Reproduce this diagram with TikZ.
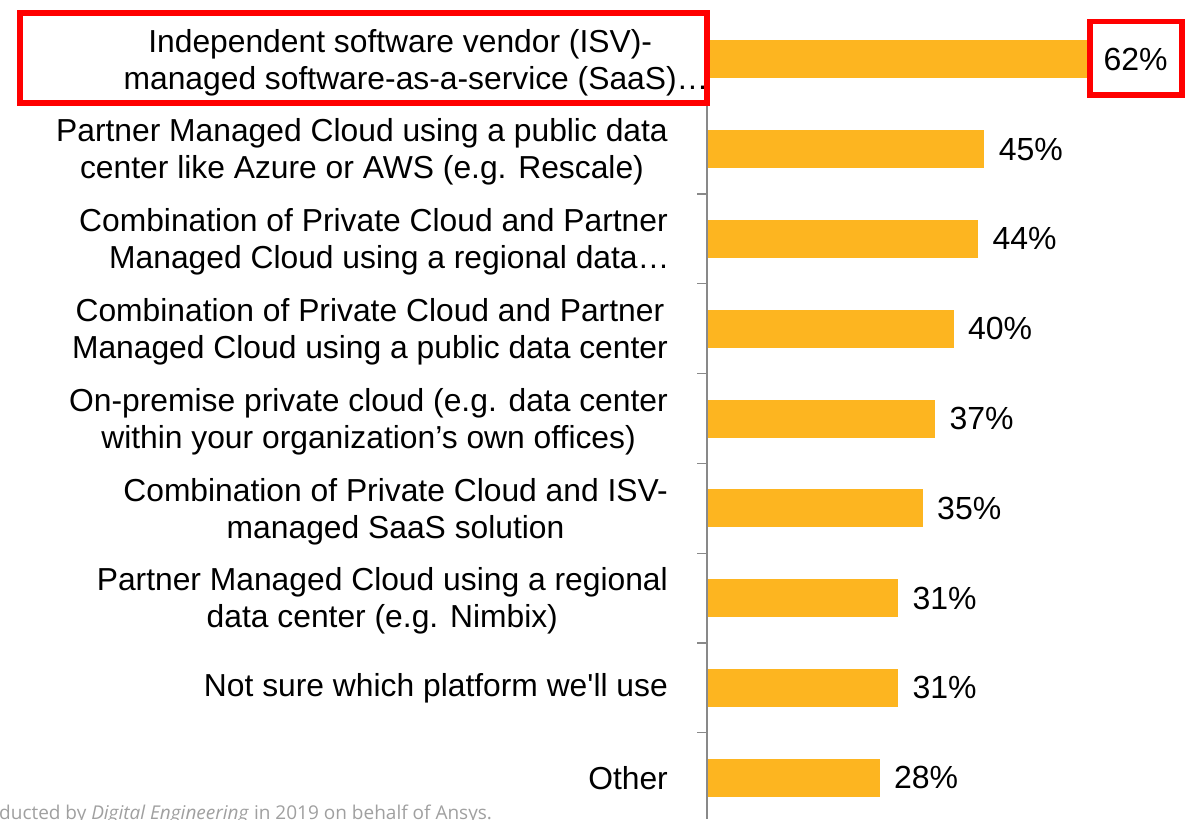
\documentclass[tikz,border=0pt]{standalone}
\usepackage{fontspec}
\newfontfamily\labfont{Liberation Sans}
\newfontfamily\footfont{Open Sans}
\definecolor{barfill}{RGB}{253,181,32}
\definecolor{axisgray}{RGB}{137,137,137}
\definecolor{footgray}{RGB}{160,160,160}
\begin{document}
\begin{tikzpicture}[x=1pt,y=-1pt,
  lab/.style={anchor=east, align=center, inner sep=0pt, font=\labfont\fontsize{31.8}{37}\selectfont},
  pct/.style={anchor=west, inner sep=0pt, font=\labfont\fontsize{32}{37}\selectfont},
  barbox/.style={fill=barfill, draw=none, anchor=west, inner sep=0pt, minimum height=38pt},
  hlbox/.style={draw=red, line width=6pt, inner sep=0pt},
  axisline/.style={draw=axisgray, line width=1.2pt}]
\useasboundingbox (0,0) rectangle (1188,819);
\fill[white] (0,0) rectangle (1188,819);
% bars, values and labels
\foreach \i/\p/\t in {
  0/62/{},
  1/45/{Partner Managed Cloud using a public data\\center like Azure or AWS (e.g. Rescale)},
  2/44/{Combination of Private Cloud and Partner\\Managed Cloud using a regional data\rlap{…}},
  3/40/{Combination of Private Cloud and Partner\\Managed Cloud using a public data center},
  4/37/{On-premise private cloud (e.g. data center\\within your organization’s own offices)},
  5/35/{Combination of Private Cloud and ISV-\\managed SaaS solution},
  6/31/{Partner Managed Cloud using a regional\\data center (e.g. Nimbix)},
  7/31/{Not sure which platform we'll use},
  8/28/{Other}}{
  \pgfmathsetmacro\yc{59.3+89.8*\i}
  \pgfmathsetmacro\bw{6.16*\p}
  \node[barbox, minimum width=\bw pt] (bar\i) at (707,\yc) {};
  \node[pct] (pct\i) at ([xshift=14pt]bar\i.east) {\p\%};
  \ifnum\i>6
    \node[lab] (lab\i) at (668,\yc) {\t};
  \else\ifnum\i>0
    \node[lab, yshift=-3pt] (lab\i) at (668,\yc) {\t};
  \fi\fi
}
\node[lab, yshift=-3pt] (lab0) at (677,59.3) {Independent software vendor (ISV)-\\managed software-as-a-service (SaaS)\rlap{…}};
% axis
\draw[axisline] (707,15) -- (707,819);
\foreach \k in {0,...,7}{
  \pgfmathsetmacro\yt{194+89.8*\k}
  \draw[axisline] (697,\yt) -- (707,\yt);
}
% highlight boxes
\node[hlbox, minimum width=686.5pt, minimum height=90.5pt] (hl1) at (363.25,57.75) {};
\node[hlbox, line width=5.5pt, minimum width=92pt, minimum height=73.5pt] (hl2) at (1136,58.25) {};
% footer
\node[anchor=base west, inner sep=0pt, text=footgray, font=\footfont\fontsize{19}{22}\selectfont] (foot) at (-1,819.5) {ducted by \textit{Digital Engineering} in 2019 on behalf of Ansys.};
\end{tikzpicture}
\end{document}
